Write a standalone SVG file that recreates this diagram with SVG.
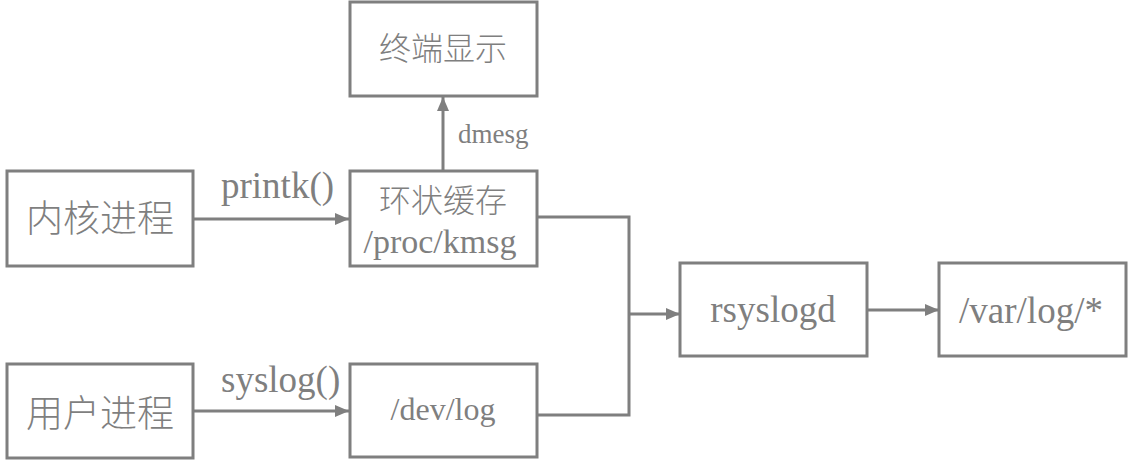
<svg xmlns="http://www.w3.org/2000/svg" width="1129" height="460" viewBox="0 0 1129 460">
<defs>
<style>
.box{fill:#ffffff;stroke:#7f7f7f;stroke-width:3}
.ln{fill:none;stroke:#7f7f7f;stroke-width:3}
.zh{font-family:"Noto Sans CJK SC","Noto Sans",sans-serif;fill:#7f7f7f;text-anchor:middle;font-weight:300}
.en{font-family:'Liberation Serif','DejaVu Serif',serif;fill:#7f7f7f}
.mid{text-anchor:middle}
</style>
<marker id="arr" markerUnits="userSpaceOnUse" markerWidth="14" markerHeight="14" viewBox="0 0 14 14" refX="14" refY="7" orient="auto">
<path d="M0,1 L14,7 L0,13 Z" fill="#7f7f7f"/>
</marker>
</defs>
<rect width="1129" height="460" fill="#ffffff"/>
<g id="connectors">
<line class="ln" x1="193" y1="219" x2="349" y2="219" marker-end="url(#arr)"/>
<line class="ln" x1="193" y1="411" x2="349" y2="411" marker-end="url(#arr)"/>
<line class="ln" x1="443" y1="171" x2="443" y2="97" marker-end="url(#arr)"/>
<polyline class="ln" points="537,217 629,217 629,415 537,415"/>
<line class="ln" x1="629" y1="314" x2="680" y2="314" marker-end="url(#arr)"/>
<line class="ln" x1="867" y1="310" x2="939" y2="310" marker-end="url(#arr)"/>
<text class="en" font-family="Liberation Serif, DejaVu Serif, serif" x="458" y="143" font-size="27">dmesg</text>
<text class="en" font-family="Liberation Serif, DejaVu Serif, serif" x="221" y="198" font-size="37">printk()</text>
<text class="en" font-family="Liberation Serif, DejaVu Serif, serif" x="221" y="392" font-size="37">syslog()</text>
</g>
<g id="terminal">
<rect class="box" x="350" y="2" width="187" height="94"/>
<text class="zh" x="443" y="60" font-size="32">终端显示</text>
</g>
<g id="kernel">
<rect class="box" x="7" y="171" width="186" height="95"/>
<text class="zh" x="100" y="232" font-size="37">内核进程</text>
</g>
<g id="ringbuffer">
<rect class="box" x="350" y="171" width="187" height="95"/>
<text class="zh" x="443" y="212" font-size="32">环状缓存</text>
<text class="en mid" font-family="Liberation Serif, DejaVu Serif, serif" x="440" y="253" font-size="34">/proc/kmsg</text>
</g>
<g id="user">
<rect class="box" x="7" y="364" width="186" height="94"/>
<text class="zh" x="100" y="427" font-size="37">用户进程</text>
</g>
<g id="devlog">
<rect class="box" x="350" y="364" width="187" height="93"/>
<text class="en mid" font-family="Liberation Serif, DejaVu Serif, serif" x="443" y="420" font-size="32">/dev/log</text>
</g>
<g id="rsyslogd">
<rect class="box" x="680" y="263" width="187" height="93"/>
<text class="en mid" font-family="Liberation Serif, DejaVu Serif, serif" x="773" y="322" font-size="37">rsyslogd</text>
</g>
<g id="varlog">
<rect class="box" x="939" y="263" width="187" height="93"/>
<text class="en mid" font-family="Liberation Serif, DejaVu Serif, serif" x="1031" y="323" font-size="37">/var/log/*</text>
</g>
</svg>
